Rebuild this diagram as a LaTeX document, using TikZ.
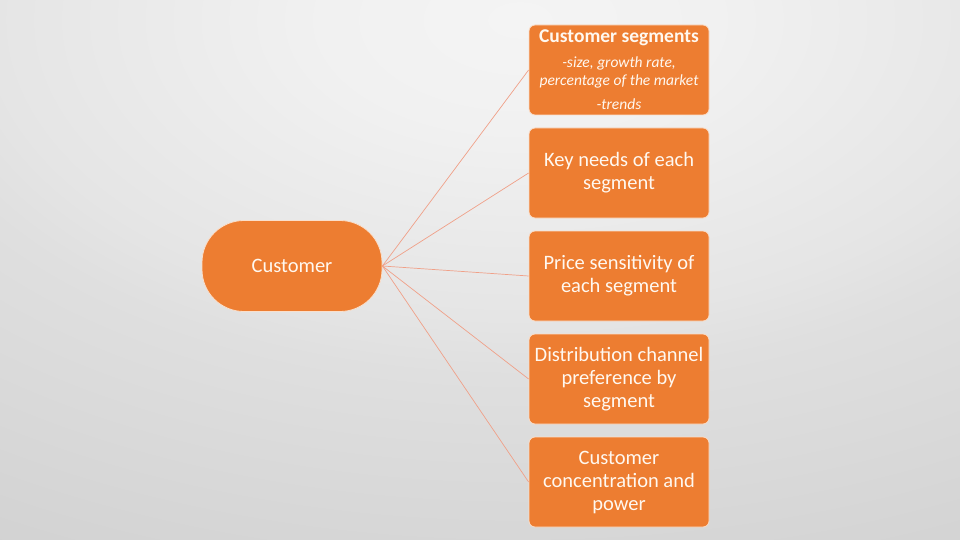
\documentclass[tikz,border=0pt]{standalone}
\usepackage{fontspec}
\setmainfont{Carlito}
\definecolor{boxorange}{HTML}{ED7D31}
\definecolor{linkcol}{HTML}{F0A088}
\definecolor{bga}{HTML}{F4F4F4}
\definecolor{bgb}{HTML}{F1F1F1}
\definecolor{bgc}{HTML}{E5E5E5}
\definecolor{bgd}{HTML}{DFDFDF}
\definecolor{bge}{HTML}{D2D2D2}
\definecolor{txtcol}{HTML}{FFF8F0}
\pgfdeclareradialshading{bgs}{\pgfpoint{0bp}{0bp}}{color(0bp)=(bga); color(4.4bp)=(bgb); color(12bp)=(bgc); color(14.4bp)=(bgd); color(24.4bp)=(bge); color(25bp)=(bge); color(50bp)=(bge)}
\tikzset{
  itembox/.style={rectangle, rounded corners=6pt, fill=boxorange, draw=white!75!boxorange, line width=0.8pt,
    minimum width=180pt, minimum height=90pt, inner sep=0pt},
  itemtext/.style={text=txtcol, align=center, font=\fontsize{20.5}{23}\selectfont, inner sep=0pt},
  hubbox/.style={rectangle, rounded corners=42pt, fill=boxorange, draw=white!75!boxorange, line width=0.8pt,
    minimum width=180pt, minimum height=91pt, inner sep=0pt, text=txtcol, font=\fontsize{20.5}{23}\selectfont},
  link/.style={draw=linkcol, line width=0.7pt}
}
\begin{document}
\begin{tikzpicture}[x=1pt,y=-1pt]
\useasboundingbox (0,0) rectangle (960,540);
\begin{scope}
\clip (0,0) rectangle (960,540);
\fill[bge] (0,0) rectangle (960,540);
\shade[shading=bgs] (520,20) ellipse [x radius=1100pt, y radius=620pt];
\end{scope}
\node[hubbox] (cust) at (292,266) {Customer};
\node[itembox] (b1) at (619,70) {};
\node[itembox] (b2) at (619,173) {};
\node[itembox] (b3) at (619,276) {};
\node[itembox] (b4) at (619,379) {};
\node[itembox] (b5) at (619,482) {};
\node[itemtext, font=\bfseries\fontsize{19.5}{23}\selectfont] (t1a) at (619,37.5) {Customer segments};
\node[itemtext, font=\itshape\fontsize{15.5}{18}\selectfont] (t1b) at (619,72) {-size, growth rate,\\percentage of the market};
\node[itemtext, font=\itshape\fontsize{15.5}{18}\selectfont] (t1c) at (619,104) {-trends};
\node[itemtext] (t2) at (b2) {Key needs of each\\segment};
\node[itemtext] (t3) at (b3) {Price sensitivity of\\each segment};
\node[itemtext] (t4) at (b4) {Distribution channel\\preference by\\segment};
\node[itemtext] (t5) at (b5) {Customer\\concentration and\\power};
\foreach \b in {b1,b2,b3,b4,b5}{
  \draw[link] (cust.east) -- (\b.west);
}
\end{tikzpicture}
\end{document}
